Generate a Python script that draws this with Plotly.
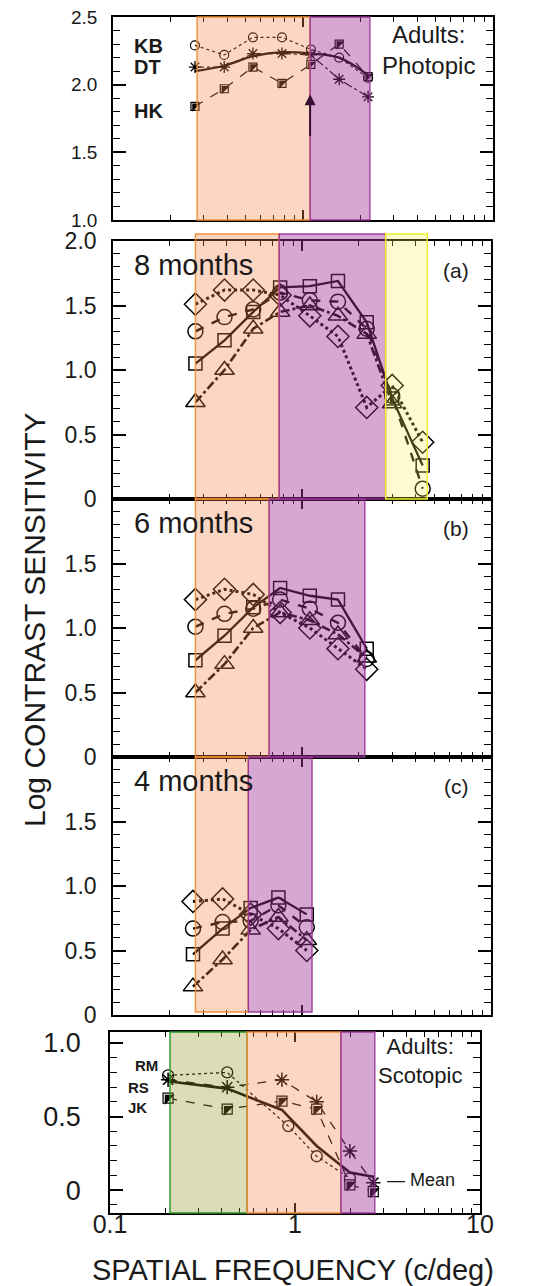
import math
import plotly.graph_objects as go

W, H = 534, 1286

# ---------------- data ----------------
# Top panel: adults, photopic
top_freq = [0.27, 0.385, 0.545, 0.775, 1.1, 1.55, 2.2]
top_KB = [2.29, 2.22, 2.35, 2.35, 2.26, 2.20, 2.05]
top_DT = [2.13, 2.13, 2.23, 2.23, 2.22, 2.04, 1.91]
top_HK = [1.84, 1.97, 2.13, 2.01, 2.15, 2.30, 2.06]
top_mean = [2.10, 2.14, 2.21, 2.24, 2.23, 2.20, 2.07]
top_bands = [("orange", 0.277, 1.09), ("purple", 1.09, 2.25)]
top_arrow_freq = 1.09

# (a) 8 months
a_freq = [0.273, 0.389, 0.552, 0.766, 1.10, 1.55, 2.2, 3.0, 4.35]
a_diamond = [1.51, 1.62, 1.62, 1.58, 1.42, 1.26, 0.71, 0.88, 0.44]
a_circle = [1.30, 1.41, 1.47, 1.60, 1.54, 1.53, 1.32, 0.80, 0.08]
a_square = [1.05, 1.23, 1.45, 1.64, 1.65, 1.69, 1.37, 0.78, 0.26]
a_triangle = [0.75, 1.00, 1.32, 1.45, 1.50, 1.42, 1.28, 0.74]
a_bands = [("orange", 0.273, 0.757), ("purple", 0.757, 2.77), ("yellow", 2.77, 4.6)]

# (b) 6 months
b_freq = [0.273, 0.389, 0.552, 0.766, 1.10, 1.55, 2.2]
b_diamond = [1.22, 1.30, 1.26, 1.12, 1.00, 0.84, 0.68]
b_circle = [1.01, 1.11, 1.15, 1.22, 1.15, 1.04, 0.76]
b_square = [0.75, 0.94, 1.16, 1.31, 1.25, 1.22, 0.84]
b_triangle = [0.50, 0.72, 1.00, 1.12, 1.06, 0.95, 0.77]
b_bands = [("orange", 0.273, 0.67), ("purple", 0.67, 2.15)]

# (c) 4 months
c_freq = [0.265, 0.38, 0.535, 0.75, 1.06]
c_diamond = [0.88, 0.90, 0.78, 0.67, 0.50]
c_circle = [0.67, 0.72, 0.73, 0.85, 0.68]
c_square = [0.47, 0.67, 0.83, 0.91, 0.78]
c_triangle = [0.22, 0.43, 0.66, 0.76, 0.58]
c_bands = [("orange", 0.273, 0.52), ("purple", 0.52, 1.13)]

# Bottom panel: adults, scotopic
s_freq = [0.206, 0.43, 0.85, 1.31, 1.98, 2.65]
s_RM_freq = [0.206, 0.43, 0.92, 1.31, 1.98]
s_RM = [0.78, 0.80, 0.435, 0.23, 0.08]
s_RS = [0.75, 0.70, 0.75, 0.60, 0.265, 0.05]
s_JK = [0.625, 0.55, 0.605, 0.55, 0.035, -0.01]
s_mean = [0.74, 0.69, 0.545, 0.30, 0.12, 0.09]
s_bands = [("green", 0.211, 0.55), ("orange", 0.55, 1.77), ("purple", 1.77, 2.7)]

age_labels = ["8 months", "6 months", "4 months"]
panel_tags = ["(a)", "(b)", "(c)"]
x_tick_vals = [0.1, 1, 10]
x_tick_text = ["0.1", "1", "10"]
x_minor = [0.2, 0.3, 0.4, 0.5, 0.6, 0.7, 0.8, 0.9, 2, 3, 4, 5, 6, 7, 8, 9]

# ---------------- styling ----------------
FONT = "Liberation Sans, Arial, Helvetica, sans-serif"
TXT = "#1a1a1a"
BAND_STYLE = {
    "orange": dict(fill="rgba(242,130,70,0.33)", line="rgba(240,140,50,0.95)"),
    "purple": dict(fill="rgba(160,50,150,0.43)", line="rgba(150,50,150,0.9)"),
    "yellow": dict(fill="rgba(255,240,80,0.27)", line="rgba(240,240,40,1)"),
    "green": dict(fill="rgba(150,150,40,0.33)", line="rgba(40,150,40,1)"),
}


def px(x):
    return x / W


def py(y):
    return 1 - y / H


# panel geometry (pixels): x-left, x-right, y-top, y-bottom, band top, band bottom
panels = [
    dict(name="1", xd=(113, 493), yd=(17, 220), yr=[1.0, 2.5], bt=17, bb=220),
    dict(name="2", xd=(113, 491), yd=(241, 499), yr=[0, 2.0], bt=234, bb=499),
    dict(name="3", xd=(113, 491), yd=(499, 757), yr=[0, 2.0], bt=499, bb=757),
    dict(name="4", xd=(113, 491), yd=(757, 1015), yr=[0, 2.0], bt=757, bb=1012),
    dict(name="5", xd=(110, 480), yd=(1032, 1213), yr=[-0.156, 1.075], bt=1032, bb=1213),
]

fig = go.Figure()
layout = dict(
    width=W, height=H, margin=dict(l=0, r=0, t=0, b=0, autoexpand=False),
    paper_bgcolor="white", plot_bgcolor="white", showlegend=False,
    font=dict(family=FONT, color=TXT),
)

ytick_sets = [
    ([1.0, 1.5, 2.0, 2.5], ["1.0", "1.5", "2.0", "2.5"], 19),
    ([0, 0.5, 1.0, 1.5, 2.0], ["0", "0.5", "1.0", "1.5", "2.0"], 23),
    ([0, 0.5, 1.0, 1.5], ["0", "0.5", "1.0", "1.5"], 23),
    ([0, 0.5, 1.0, 1.5], ["0", "0.5", "1.0", "1.5"], 23),
    ([0, 0.5, 1.0], ["0", "0.5", "1.0"], 27),
]

for i, p in enumerate(panels):
    k = "" if p["name"] == "1" else p["name"]
    last = i == len(panels) - 1
    yr = p["yr"]
    minor_y = [round(0.1 * j, 1) for j in range(-5, 30) if yr[0] <= 0.1 * j <= yr[1]]
    tv, tt, fs = ytick_sets[i]
    layout["xaxis" + k] = dict(
        type="log", range=[-1, 1], domain=[px(p["xd"][0]), px(p["xd"][1])],
        anchor="y" + k, showline=True, linecolor="black", linewidth=1.6,
        mirror="ticks", ticks="inside", ticklen=10, tickwidth=1.5, tickcolor="black",
        tickvals=x_tick_vals, ticktext=x_tick_text, showticklabels=last,
        tickfont=dict(size=25, family=FONT, color=TXT), ticklabelstandoff=-12,
        showgrid=False, zeroline=False, automargin=False,
        minor=dict(tickvals=x_minor, ticks="inside", ticklen=5, tickwidth=1.2,
                   tickcolor="black", showgrid=False),
    )
    layout["yaxis" + k] = dict(
        range=yr, domain=[py(p["yd"][1]), py(p["yd"][0])], anchor="x" + k,
        showline=True, linecolor="black", linewidth=1.6, mirror="ticks",
        ticks="inside", ticklen=13, tickwidth=1.5, tickcolor="black",
        tickvals=tv, ticktext=tt, tickfont=dict(size=fs, family=FONT, color=TXT),
        ticklabelstandoff=10 if not last else 22,
        showgrid=False, zeroline=False, automargin=False,
        minor=dict(tickvals=minor_y, ticks="inside", ticklen=7, tickwidth=1.2,
                   tickcolor="black", showgrid=False),
    )


def add_line(k, x, y, dash, width, symbol, size, mline=1.5):
    fig.add_trace(go.Scatter(
        x=x, y=y, xaxis="x" + k, yaxis="y" + k, mode="lines+markers",
        line=dict(color="black", width=width, dash=dash),
        marker=dict(symbol=symbol, size=size, color="black",
                    line=dict(color="black", width=mline)),
        cliponaxis=False, hoverinfo="skip",
    ))


def add_half_square(k, x, y, dash, width, size):
    fig.add_trace(go.Scatter(
        x=x, y=y, xaxis="x" + k, yaxis="y" + k, mode="lines+markers",
        line=dict(color="black", width=width, dash=dash),
        marker=dict(symbol="square", size=size, color="white",
                    line=dict(color="black", width=1.2)),
        cliponaxis=False, hoverinfo="skip",
    ))
    fig.add_trace(go.Scatter(
        x=x, y=y, xaxis="x" + k, yaxis="y" + k, mode="markers",
        marker=dict(symbol="triangle-nw", size=size + 1, color="black",
                    line=dict(width=0)),
        cliponaxis=False, hoverinfo="skip",
    ))


# ---- top panel ----
add_line("", top_freq, top_KB, "dot", 1.2, "circle-open", 9, 1.2)
add_line("", top_freq, top_DT, "dashdot", 1.2, "asterisk-open", 10, 1.3)
add_half_square("", top_freq, top_HK, "dash", 1.2, 8)
fig.add_trace(go.Scatter(x=top_freq, y=top_mean, xaxis="x", yaxis="y", mode="lines",
                         line=dict(color="black", width=2.2, shape="spline"),
                         hoverinfo="skip"))

# ---- infant panels ----
infant = [
    ("2", a_freq, a_diamond, a_circle, a_square, a_triangle),
    ("3", b_freq, b_diamond, b_circle, b_square, b_triangle),
    ("4", c_freq, c_diamond, c_circle, c_square, c_triangle),
]
for k, fr, dia, cir, sq, tri in infant:
    add_line(k, fr[:len(dia)], dia, "dot", 3, "diamond-open", 17)
    add_line(k, fr[:len(cir)], cir, "dash", 2.4, "circle-open", 15)
    add_line(k, fr[:len(sq)], sq, "solid", 2.3, "square-open", 13)
    add_line(k, fr[:len(tri)], tri, "dashdot", 2.6, "triangle-up-open", 17)

# ---- scotopic panel ----
add_line("5", s_RM_freq, s_RM, "dot", 1.3, "circle-open", 11, 1.3)
add_line("5", s_freq, s_RS, "dash", 1.3, "asterisk-open", 12, 1.5)
add_half_square("5", s_freq, s_JK, "dash", 1.3, 10)
fig.add_trace(go.Scatter(x=s_freq, y=s_mean, xaxis="x5", yaxis="y5", mode="lines",
                         line=dict(color="black", width=2.6), hoverinfo="skip"))

# ---- shaded bands (above data, translucent) ----
shapes = []
all_bands = [top_bands, a_bands, b_bands, c_bands, s_bands]
for p, bands in zip(panels, all_bands):
    k = "" if p["name"] == "1" else p["name"]
    for col, f0, f1 in bands:
        st = BAND_STYLE[col]
        shapes.append(dict(
            type="rect", xref="x" + k, yref="paper", x0=f0, x1=f1,
            y0=py(p["bb"]), y1=py(p["bt"]), fillcolor=st["fill"],
            line=dict(color=st["line"], width=1.4), layer="above",
        ))
layout["shapes"] = shapes

# ---- annotations ----
ann = []


def text(x, y, s, size, xanchor="left", yanchor="middle", **kw):
    ann.append(dict(xref="paper", yref="paper", x=px(x), y=py(y), text=s,
                    showarrow=False, xanchor=xanchor, yanchor=yanchor,
                    font=dict(size=size, family=FONT, color=TXT), **kw))


text(132, 46, "<b>KB</b>", 20)
text(132, 67, "<b>DT</b>", 20)
text(132, 111, "<b>HK</b>", 20)
text(380, 50, "Adults:<br>Photopic", 24)

# arrow in top panel (annotation x on a log axis is given in log10 units)
arrow_lx = math.log10(top_arrow_freq)
ann.append(dict(xref="x", yref="y", x=arrow_lx, y=1.93, ax=arrow_lx, ay=1.61,
                axref="x", ayref="y", showarrow=True, arrowhead=2, arrowsize=1.1,
                arrowwidth=2.0, arrowcolor="#3a1030", text="", standoff=0))

for lab, tag, ytop in zip(age_labels, panel_tags, [241, 499, 757]):
    text(132, ytop + 24, lab, 29)
    text(456, ytop + 29, tag, 21, xanchor="center")

text(133, 1065, "<b>RM</b>", 15)
text(126, 1087, "<b>RS</b>", 15)
text(126, 1107, "<b>JK</b>", 15)
text(376, 1061, "Adults:<br>Scotopic", 22)
text(385, 1180, "\u2014 Mean", 18)

text(34, 620, "Log CONTRAST SENSITIVITY", 30, xanchor="center", textangle=-90)
text(293, 1270, "SPATIAL FREQUENCY (c/deg)", 29, xanchor="center")

layout["annotations"] = ann
fig.update_layout(**layout)
fig.write_html(
    "out.html",
    config={"displayModeBar": False},
    post_script="document.body.style.margin='0';document.body.style.overflow='hidden';",
)
